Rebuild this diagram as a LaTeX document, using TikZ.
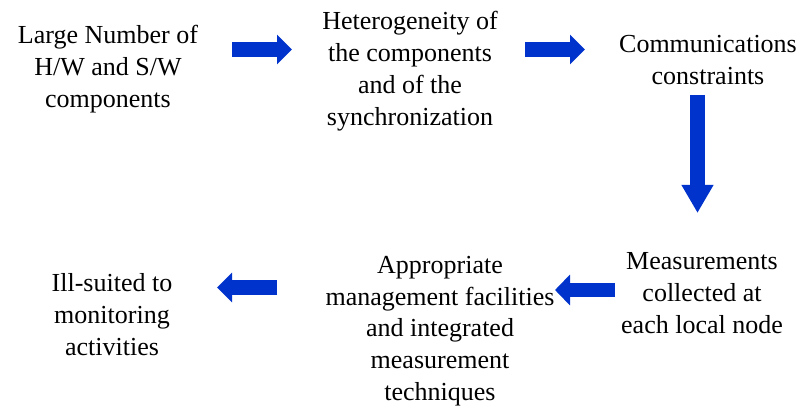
\documentclass[tikz,border=0pt]{standalone}
\usepackage{fontspec}
\setmainfont{LiberationSerif}[Extension=.ttf,UprightFont=*-Regular,BoldFont=*-Bold]
\usetikzlibrary{arrows.meta}
\definecolor{arrowblue}{RGB}{0,51,204}
\tikzset{
  txt/.style={align=center,inner sep=0pt,font=\fontsize{26}{31.8}\selectfont},
  blockarrow/.style={draw=arrowblue,line width=15pt,-{Triangle[width=29pt,length=15pt]}}
}
\begin{document}
\begin{tikzpicture}[x=1pt,y=-1pt]
\useasboundingbox (0,0) rectangle (803,406);
\node[txt] (n1) at (108,69) {Large Number of\\H/W and S/W\\components};
\node[txt] (n2) at (410,71) {Heterogeneity of\\the components\\and of the\\synchronization};
\node[txt] (n3) at (708,60) {Communications\\constraints};
\node[txt] (n4) at (702,293) {Measurements\\collected at\\each local node};
\node[txt] (n5) at (440,331) {Appropriate\\management facilities\\and integrated\\measurement\\techniques};
\node[txt] (n6) at (112,314.5) {Ill-suited to\\monitoring\\activities};
\coordinate (a1s) at (232,49.5); \coordinate (a1e) at (292,49.5);
\coordinate (a2s) at (525,49.5); \coordinate (a2e) at (585,49.5);
\coordinate (a3s) at (697.5,95); \coordinate (a3e) at (697.5,213);
\coordinate (a4s) at (615,290); \coordinate (a4e) at (555,290);
\coordinate (a5s) at (277,287.5); \coordinate (a5e) at (217,287.5);
\draw[blockarrow] (a1s) -- (a1e);
\draw[blockarrow] (a2s) -- (a2e);
\draw[draw=arrowblue,line width=15pt,-{Triangle[width=30pt,length=28pt]}] (a3s) -- (a3e);
\draw[blockarrow,line width=14pt,-{Triangle[width=30pt,length=15pt]}] (a4s) -- (a4e);
\draw[blockarrow] (a5s) -- (a5e);
\end{tikzpicture}
\end{document}
